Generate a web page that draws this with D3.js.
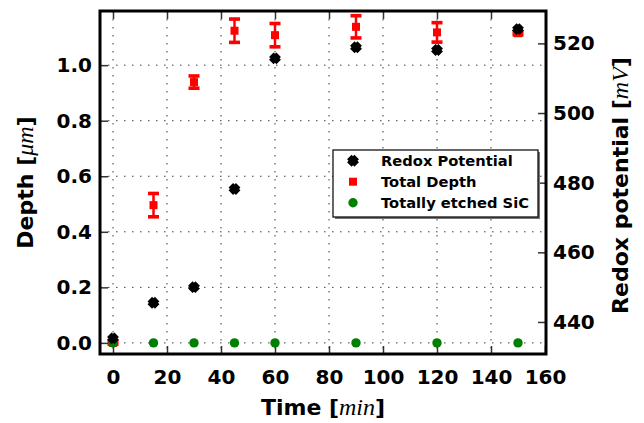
<!DOCTYPE html>
<html><head><meta charset="utf-8">
<script src="https://cdn.jsdelivr.net/npm/d3@7"></script>
<style>
body{margin:0;background:#fff;}
svg{display:block;font-family:"DejaVu Sans",sans-serif;}
</style></head>
<body>
<svg id="c" width="644" height="423"></svg>
<script>
const times = [0, 15, 30, 45, 60, 90, 120, 150];
const redox = [435.3, 445.5, 450.0, 478.2, 515.7, 518.9, 518.1, 524.1];
const depth = [0.0, 0.496, 0.939, 1.124, 1.108, 1.138, 1.118, 1.115];
const depthErr = [0.005, 0.042, 0.022, 0.042, 0.042, 0.040, 0.035, 0.006];
const etched = [0, 0, 0, 0, 0, 0, 0, 0];
const xTicks = [0, 20, 40, 60, 80, 100, 120, 140, 160];
const yLeftTicks = [0.0, 0.2, 0.4, 0.6, 0.8, 1.0];
const yRightTicks = [440, 460, 480, 500, 520];
const legendLabels = ["Redox Potential", "Total Depth", "Totally etched SiC"];

const L = 100, R = 546, T = 11, B = 354;
const svg = d3.select("#c");
const x = d3.scaleLinear().domain([-5, 160]).range([L - 0.5, R - 1]);
const yL = d3.scaleLinear().domain([-0.04, 1.195]).range([B, T]);
const yR = d3.scaleLinear().domain([430.8, 529.3]).range([B, T]);

// grid
const grid = svg.append("g").attr("stroke", "#000").attr("stroke-width", 1)
  .attr("stroke-dasharray", "1.5,6.5").attr("opacity", 0.75);
xTicks.forEach(t => { if (x(t) > L + 2 && x(t) < R - 2)
  grid.append("line").attr("x1", x(t)).attr("x2", x(t)).attr("y1", T).attr("y2", B); });
yLeftTicks.forEach(t => grid.append("line").attr("x1", L).attr("x2", R).attr("y1", yL(t)).attr("y2", yL(t)));

// axes
const tickStyle = g => {
  g.select(".domain").remove();
  g.selectAll(".tick line").attr("stroke", "#333").attr("stroke-width", 1.5);
  g.selectAll("text").attr("font-size", 20).attr("font-weight", "bold").attr("fill", "#000")
    .attr("font-family", "DejaVu Sans");
};
svg.append("g").attr("transform", `translate(0,${B})`)
  .call(d3.axisBottom(x).tickValues(xTicks).tickSizeInner(-8).tickSizeOuter(0).tickPadding(15.5).tickFormat(d3.format("d")))
  .call(tickStyle);
svg.append("g").attr("transform", `translate(0,${T})`)
  .call(d3.axisTop(x).tickValues(xTicks.filter(t => t < 160)).tickSizeInner(-8).tickSizeOuter(0).tickFormat(""))
  .call(tickStyle);
svg.append("g").attr("transform", `translate(${L},0)`)
  .call(d3.axisLeft(yL).tickValues(yLeftTicks).tickSizeInner(-8).tickSizeOuter(0).tickPadding(8).tickFormat(d3.format(".1f")))
  .call(tickStyle);
svg.append("g").attr("transform", `translate(${R},0)`)
  .call(d3.axisRight(yR).tickValues(yRightTicks).tickSizeInner(-8).tickSizeOuter(0).tickPadding(7).tickFormat(d3.format("d")))
  .call(tickStyle);

// filled X marker shape (s = arm length + half width)
const xPath = (s) => {
  const Lr = s * 0.62, h = s * 0.38;
  const pts = [[h,-Lr],[h,-h],[Lr,-h],[Lr,h],[h,h],[h,Lr],[-h,Lr],[-h,h],[-Lr,h],[-Lr,-h],[-h,-h],[-h,-Lr]];
  const c = Math.SQRT1_2;
  return "M" + pts.map(([a,b]) => [(a - b) * c, (a + b) * c].map(v => v.toFixed(2)).join(",")).join("L") + "Z";
};

// red error bars and squares
const red = "#ff0000";
const eg = svg.append("g");
times.forEach((t, i) => {
  const cx = x(t), y0 = yL(depth[i] - depthErr[i]), y1 = yL(depth[i] + depthErr[i]);
  eg.append("line").attr("x1", cx).attr("x2", cx).attr("y1", y0).attr("y2", y1)
    .attr("stroke", red).attr("stroke-width", 2.5);
  [y0, y1].forEach(yy => eg.append("rect").attr("x", cx - 5.5).attr("y", yy - 1.8)
    .attr("width", 11).attr("height", 3.6).attr("fill", red));
  eg.append("rect").attr("x", cx - 4).attr("y", yL(depth[i]) - 4).attr("width", 8).attr("height", 8).attr("fill", red);
});

// green circles
svg.append("g").selectAll("circle").data(times).join("circle")
  .attr("cx", t => x(t)).attr("cy", (t, i) => yL(etched[i])).attr("r", 4.7).attr("fill", "#008000");

// black redox
svg.append("g").selectAll("path").data(times).join("path")
  .attr("d", xPath(8.4)).attr("fill", "#000")
  .attr("transform", (t, i) => `translate(${x(t)},${yR(redox[i])})`);

// frame
svg.append("rect").attr("x", L).attr("y", T).attr("width", R - L).attr("height", B - T)
  .attr("fill", "none").attr("stroke", "#000").attr("stroke-width", 3);

// legend
const lg = svg.append("g");
lg.append("rect").attr("x", 335).attr("y", 152).attr("width", 205).attr("height", 67).attr("fill", "#777");
lg.append("rect").attr("x", 333).attr("y", 150).attr("width", 205).attr("height", 67)
  .attr("fill", "#fff").attr("stroke", "#000").attr("stroke-width", 1.2);
const rows = [160.7, 181.7, 202.7];
lg.append("path").attr("d", xPath(8.4)).attr("fill", "#000").attr("transform", `translate(353,${rows[0]})`);
lg.append("rect").attr("x", 349).attr("y", rows[1] - 4).attr("width", 8).attr("height", 8).attr("fill", red);
lg.append("circle").attr("cx", 353).attr("cy", rows[2]).attr("r", 4.7).attr("fill", "#008000");
legendLabels.forEach((s, i) => lg.append("text").attr("x", 381).attr("y", rows[i] + 5.3)
  .attr("font-size", 14.7).attr("font-weight", "bold").text(s));

// axis labels
const xl = svg.append("text").attr("x", (L + R) / 2).attr("y", 415).attr("text-anchor", "middle")
  .attr("font-size", 22).attr("font-weight", "bold");
xl.append("tspan").text("Time [");
xl.append("tspan").attr("font-family", "Liberation Serif").attr("font-style", "italic").attr("font-weight", "normal").attr("font-size", 24).text("min");
xl.append("tspan").text("]");

const yl = svg.append("text").attr("transform", `translate(33,${(T + B) / 2}) rotate(-90)`).attr("text-anchor", "middle")
  .attr("font-size", 22).attr("font-weight", "bold");
yl.append("tspan").text("Depth [");
yl.append("tspan").attr("font-family", "Liberation Serif").attr("font-style", "italic").attr("font-weight", "normal").attr("font-size", 24).text("μm");
yl.append("tspan").text("]");

const yr = svg.append("text").attr("transform", `translate(628,${(T + B) / 2 + 3}) rotate(-90)`).attr("text-anchor", "middle")
  .attr("font-size", 22).attr("font-weight", "bold");
yr.append("tspan").text("Redox potential [");
yr.append("tspan").attr("font-family", "Liberation Serif").attr("font-style", "italic").attr("font-weight", "normal").attr("font-size", 24).text("mV");
yr.append("tspan").text("]");
</script>
</body></html>
